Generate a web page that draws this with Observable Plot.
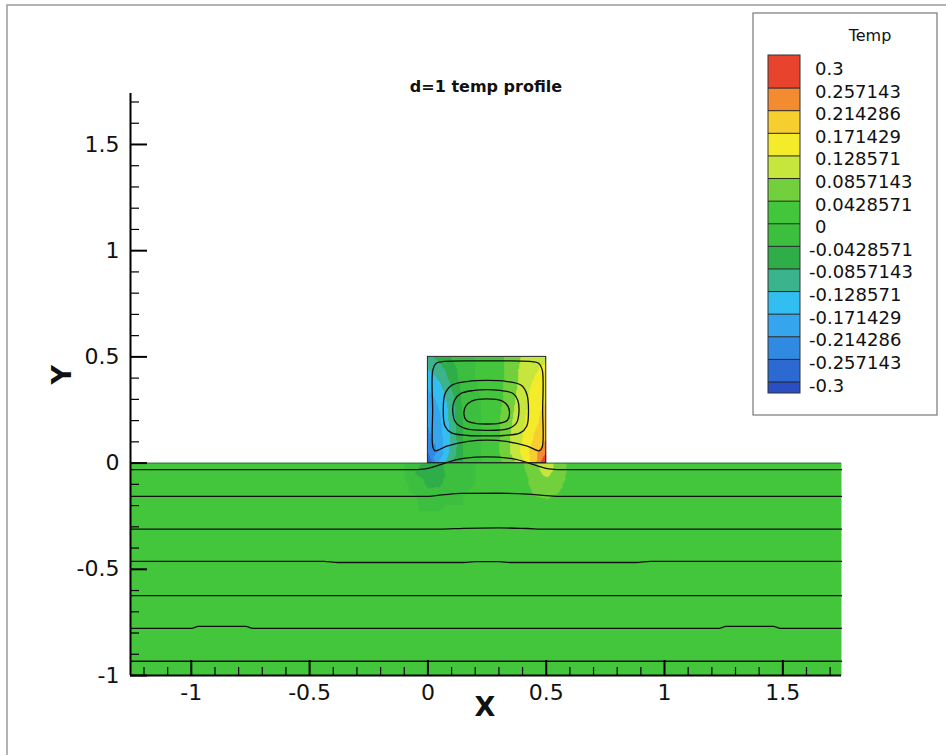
<!DOCTYPE html>
<html><head><meta charset="utf-8">
<script src="https://cdn.jsdelivr.net/npm/d3@7"></script>
<script src="https://cdn.jsdelivr.net/npm/@observablehq/plot@0.6"></script>
<style>
body{margin:0;background:#fff;}
#wrap{position:relative;width:946px;height:755px;overflow:hidden;}
#wrap svg{position:absolute;left:0;top:0;}
</style></head><body><div id="wrap"></div>
<script>
// ---------- text ----------
const chartTitle = "d=1 temp profile";
const xLabel = "X";
const yLabel = "Y";
const legendTitle = "Temp";

// ---------- axes ----------
const xDomain = [-1.257, 1.748];
const yDomain = [-1, 1.74];
const majorTicksX = [-1, -0.5, 0, 0.5, 1, 1.5];
const majorTicksY = [-1, -0.5, 0, 0.5, 1, 1.5];
const minorTicksX = [-1.2,-1.1,-0.9,-0.8,-0.7,-0.6,-0.4,-0.3,-0.2,-0.1,0.1,0.2,0.3,0.4,0.6,0.7,0.8,0.9,1.1,1.2,1.3,1.4,1.6,1.7];
const minorTicksY = [-0.9,-0.8,-0.7,-0.6,-0.4,-0.3,-0.2,-0.1,0.1,0.2,0.3,0.4,0.6,0.7,0.8,0.9,1.1,1.2,1.3,1.4,1.6,1.7];

// ---------- colour levels ----------
const legendValues = [0.3, 0.257143, 0.214286, 0.171429, 0.128571, 0.0857143, 0.0428571, 0, -0.0428571, -0.0857143, -0.128571, -0.171429, -0.214286, -0.257143, -0.3];
const legendLabels = ["0.3","0.257143","0.214286","0.171429","0.128571","0.0857143","0.0428571","0","-0.0428571","-0.0857143","-0.128571","-0.171429","-0.214286","-0.257143","-0.3"];
const thresholds = [-0.3,-0.257143,-0.214286,-0.171429,-0.128571,-0.0857143,-0.0428571,0,0.0428571,0.0857143,0.128571,0.171429,0.214286,0.257143];
const bandColors = ["#2a4fc2","#2c6ad2","#318ae2","#35a6ee","#33bef2","#3bb48e","#2fad48","#3cbf3e","#43c63b","#72d03c","#c6e63d","#f4ec2a","#f6cf2e","#f38b30","#e8432c"];

// ---------- cavity (0..0.5 x 0..0.5) temperature samples ----------
const cavityGridX = [0, 0.05, 0.1, 0.15, 0.2, 0.25, 0.3, 0.35, 0.4, 0.45, 0.5];
const cavityGridY = [0.5, 0.4, 0.3, 0.2, 0.1, 0.05, 0];
const cavityTemp = [
  [-0.10, -0.07, -0.04, -0.01, 0.0, 0.01, 0.03, 0.06, 0.09, 0.11, 0.12],
  [-0.15, -0.12, -0.07, -0.02, 0.0, 0.01, 0.03, 0.06, 0.10, 0.13, 0.15],
  [-0.19, -0.16, -0.10, -0.03, -0.01, 0.01, 0.03, 0.07, 0.11, 0.15, 0.17],
  [-0.21, -0.18, -0.11, -0.04, -0.01, 0.01, 0.04, 0.08, 0.12, 0.16, 0.19],
  [-0.23, -0.19, -0.12, -0.04, -0.01, 0.01, 0.04, 0.09, 0.13, 0.18, 0.22],
  [-0.26, -0.20, -0.11, -0.04, -0.01, 0.01, 0.04, 0.09, 0.14, 0.20, 0.26],
  [-0.31, -0.16, -0.08, -0.04, -0.01, 0.01, 0.03, 0.06, 0.12, 0.20, 0.32]
];

// ---------- lower slab temperature samples (grid near the cavity) ----------
const slabGridX = [-0.2, -0.1, -0.05, 0, 0.05, 0.1, 0.2, 0.3, 0.4, 0.45, 0.5, 0.55, 0.6, 0.7];
const slabGridY = [0, -0.05, -0.1, -0.15, -0.25];
const slabTemp = [
  [0.01, 0.0, -0.03, -0.06, -0.05, -0.02, 0.0, 0.01, 0.04, 0.08, 0.11, 0.07, 0.03, 0.01],
  [0.01, 0.0, -0.045, -0.06, -0.055, -0.03, 0.0, 0.01, 0.03, 0.07, 0.095, 0.07, 0.03, 0.01],
  [0.01, 0.01, -0.02, -0.05, -0.048, -0.02, 0.0, 0.01, 0.03, 0.055, 0.07, 0.055, 0.025, 0.01],
  [0.01, 0.01, 0.0, -0.03, -0.03, -0.01, 0.01, 0.01, 0.02, 0.045, 0.05, 0.04, 0.02, 0.01],
  [0.01, 0.01, 0.01, 0.01, 0.01, 0.01, 0.01, 0.01, 0.01, 0.01, 0.01, 0.01, 0.01, 0.01]
];
const slabFarX = [-1.257, -1.257, 1.748, 1.748, -0.2, 0.7];
const slabFarY = [0, -1, 0, -1, -1, -1];
const slabFarT = [0.01, 0.01, 0.01, 0.01, 0.01, 0.01];

// ---------- contour lines ----------
const loop1 = [[0.02,0.25],[0.021,0.44],[0.035,0.47],[0.07,0.479],[0.25,0.481],[0.43,0.479],[0.468,0.47],[0.483,0.44],[0.485,0.25],[0.483,0.075],[0.47,0.058],[0.42,0.08],[0.33,0.102],[0.25,0.108],[0.17,0.102],[0.08,0.08],[0.03,0.058],[0.021,0.075]];
const loop2 = [[0.065,0.25],[0.072,0.325],[0.1,0.366],[0.17,0.385],[0.25,0.389],[0.33,0.385],[0.395,0.366],[0.418,0.325],[0.425,0.25],[0.418,0.175],[0.39,0.142],[0.32,0.13],[0.25,0.128],[0.17,0.13],[0.1,0.142],[0.072,0.175]];
const loop3 = [[0.105,0.245],[0.112,0.295],[0.14,0.328],[0.195,0.342],[0.25,0.346],[0.305,0.342],[0.36,0.328],[0.38,0.295],[0.385,0.245],[0.375,0.19],[0.34,0.162],[0.25,0.154],[0.16,0.162],[0.118,0.19]];
const loop4 = [[0.152,0.235],[0.16,0.268],[0.185,0.292],[0.25,0.302],[0.315,0.292],[0.338,0.268],[0.345,0.235],[0.336,0.202],[0.3,0.187],[0.25,0.184],[0.2,0.187],[0.162,0.202]];
const line1 = [[-1.257,-0.031],[-0.08,-0.031],[-0.01,-0.027],[0.04,-0.012],[0.09,0.006],[0.15,0.022],[0.25,0.029],[0.35,0.022],[0.41,0.006],[0.46,-0.012],[0.51,-0.027],[0.58,-0.031],[1.748,-0.031]];
const line2 = [[-1.257,-0.157],[-0.02,-0.157],[0.06,-0.15],[0.14,-0.143],[0.3,-0.142],[0.42,-0.146],[0.5,-0.153],[0.56,-0.157],[1.748,-0.157]];
const line3 = [[-1.257,-0.311],[0.05,-0.311],[0.15,-0.307],[0.3,-0.305],[0.42,-0.308],[0.5,-0.311],[1.748,-0.311]];
const line4 = [[-1.257,-0.463],[-0.44,-0.463],[-0.38,-0.468],[0.15,-0.468],[0.2,-0.464],[0.3,-0.464],[0.35,-0.468],[0.88,-0.468],[0.94,-0.463],[1.748,-0.463]];
const line5 = [[-1.257,-0.624],[1.748,-0.624]];
const line6 = [[-1.257,-0.778],[-1.0,-0.778],[-0.97,-0.769],[-0.77,-0.769],[-0.74,-0.778],[1.23,-0.778],[1.26,-0.769],[1.46,-0.769],[1.49,-0.778],[1.748,-0.778]];
const line7 = [[-1.257,-0.933],[1.748,-0.933]];
const cavityBox = [{x1: 0, x2: 0.5, y1: 0, y2: 0.5}];

// ---------- build tables ----------
const cavityData = cavityGridY.flatMap((y, i) => cavityGridX.map((x, j) => ({x, y, t: cavityTemp[i][j]})));
const slabData = slabGridY.flatMap((y, i) => slabGridX.map((x, j) => ({x, y, t: slabTemp[i][j]})))
  .concat(slabFarX.map((x, i) => ({x, y: slabFarY[i], t: slabFarT[i]})));
const pts = (arr, id) => arr.map(([x, y]) => ({x, y, id}));
const loops = [loop1, loop2, loop3, loop4].flatMap((l, k) => pts(l, "loop" + k));
const flatLines = [line1, line2, line3, line4, line5, line6, line7].flatMap((l, k) => pts(l, "line" + k));

const FONT = "DejaVu Sans, Liberation Sans, sans-serif";
const x0 = xDomain[0];

const plot = Plot.plot({
  width: 946, height: 755,
  marginLeft: 130, marginRight: 105, marginTop: 93, marginBottom: 80,
  x: {domain: xDomain, axis: null},
  y: {domain: yDomain, axis: null},
  color: {type: "threshold", domain: thresholds, range: bandColors},
  style: {background: "transparent", overflow: "visible", fontFamily: FONT},
  marks: [
    Plot.raster(slabData, {x: "x", y: "y", fill: "t", x1: xDomain[0], x2: xDomain[1], y1: -1, y2: 0, interpolate: "barycentric"}),
    Plot.raster(cavityData, {x: "x", y: "y", fill: "t", x1: 0, x2: 0.5, y1: 0, y2: 0.5, interpolate: "barycentric"}),
    Plot.ruleY([0], {x1: xDomain[0], x2: xDomain[1], stroke: "#1f6a1f", strokeWidth: 1}),
    Plot.line(flatLines, {x: "x", y: "y", z: "id", stroke: "#111", strokeWidth: 1.3, curve: "monotone-x"}),
    Plot.line(loops, {x: "x", y: "y", z: "id", stroke: "#111", strokeWidth: 1.3, curve: "catmull-rom-closed"}),
    Plot.rect(cavityBox, {x1: "x1", x2: "x2", y1: "y1", y2: "y2", fill: "none", stroke: "#222", strokeWidth: 1}),
    // axis lines
    Plot.ruleX([x0], {y1: yDomain[0], y2: yDomain[1], stroke: "#000", strokeWidth: 2}),
    Plot.ruleY([yDomain[0]], {x1: xDomain[0], x2: xDomain[1], stroke: "#000", strokeWidth: 2}),
    // inward ticks
    Plot.ruleY(majorTicksY, {x1: x0, x2: x0, insetRight: -17, stroke: "#000", strokeWidth: 2}),
    Plot.ruleY(minorTicksY, {x1: x0, x2: x0, insetRight: -9, stroke: "#000", strokeWidth: 1.2}),
    Plot.ruleX(majorTicksX, {y1: yDomain[0], y2: yDomain[0], insetTop: -15, stroke: "#000", strokeWidth: 2}),
    Plot.ruleX(minorTicksX, {y1: yDomain[0], y2: yDomain[0], insetTop: -8, stroke: "#000", strokeWidth: 1.2}),
    // tick labels
    Plot.text(majorTicksY, {x: x0, y: d => d, text: d => String(d), textAnchor: "end", dx: -11, fontSize: 22, fill: "#111"}),
    Plot.text(majorTicksX, {x: d => d, y: yDomain[0], text: d => String(d), dy: 17, fontSize: 22, fill: "#111"}),
    // axis titles
    Plot.text([yLabel], {frameAnchor: "left", dx: -68, rotate: -90, text: d => d, fontSize: 27, fontWeight: "bold", fill: "#111"}),
    Plot.text([xLabel], {frameAnchor: "bottom", dx: -1, dy: 40, text: d => d, fontSize: 27, fontWeight: "bold", fill: "#111"}),
    Plot.text([chartTitle], {frameAnchor: "top", dy: -13, text: d => d, fontSize: 16, fontWeight: "bold", fill: "#111"})
  ]
});

const wrap = document.getElementById("wrap");
wrap.appendChild(plot);

// ---------- overlay: page border + legend ----------
const ov = d3.select(wrap).append("svg").attr("width", 946).attr("height", 755)
  .style("font-family", FONT).style("pointer-events", "none");
ov.append("path").attr("d", "M7,755 V5 H946").attr("fill", "none").attr("stroke", "#9a9a9a").attr("stroke-width", 1.5);

const box = {x: 753, y: 13, w: 184, h: 402};
ov.append("rect").attr("x", box.x).attr("y", box.y).attr("width", box.w).attr("height", box.h)
  .attr("fill", "#fff").attr("stroke", "#777").attr("stroke-width", 1.2);
ov.append("text").attr("x", 870).attr("y", 35).attr("text-anchor", "middle").attr("dominant-baseline", "central")
  .attr("font-size", 16).attr("fill", "#111").text(legendTitle);

const ly = d3.scaleLinear().domain([0.3, -0.3]).range([65.5, 382]);
const barX = 768, barW = 32, barTop = 55, barBot = 393;
bandColors.forEach((c, i) => {
  const top = i === bandColors.length - 1 ? barTop : ly(thresholds[i]);
  const bot = i === 0 ? barBot : ly(thresholds[i - 1]);
  ov.append("rect").attr("x", barX).attr("y", top).attr("width", barW).attr("height", bot - top).attr("fill", c);
});
thresholds.forEach(t => {
  ov.append("line").attr("x1", barX).attr("x2", barX + barW).attr("y1", ly(t)).attr("y2", ly(t))
    .attr("stroke", "#222").attr("stroke-width", 1);
});
ov.append("rect").attr("x", barX).attr("y", barTop).attr("width", barW).attr("height", barBot - barTop)
  .attr("fill", "none").attr("stroke", "#333").attr("stroke-width", 1);
legendValues.forEach((v, i) => {
  ov.append("text").attr("x", v < 0 ? 809 : 815).attr("y", ly(v) + 3).attr("dominant-baseline", "central")
    .attr("font-size", 18).attr("fill", "#111").text(legendLabels[i]);
});
</script></body></html>
